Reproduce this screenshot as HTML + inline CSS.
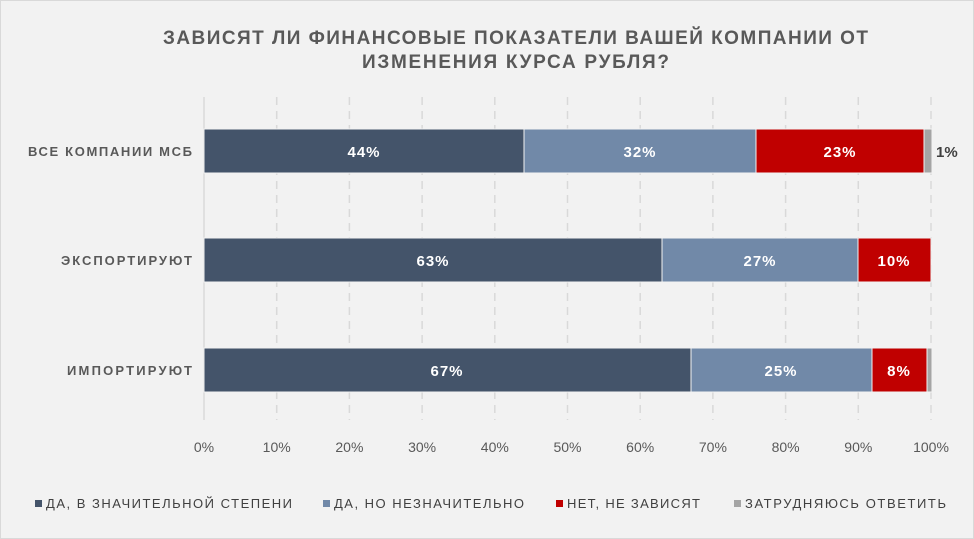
<!DOCTYPE html>
<html><head><meta charset="utf-8"><style>
html,body{margin:0;padding:0;background:#f2f2f2;}
svg{display:block;font-family:"Liberation Sans","DejaVu Sans",sans-serif;}
</style></head><body>
<svg width="974" height="539" viewBox="0 0 974 539" xmlns="http://www.w3.org/2000/svg">
<rect x="0.5" y="0.5" width="973" height="538" fill="#f2f2f2" stroke="#d9d9d9"/>
<text x="163" y="44" textLength="705" lengthAdjust="spacing" font-size="19" font-weight="bold" fill="#595959">ЗАВИСЯТ ЛИ ФИНАНСОВЫЕ ПОКАЗАТЕЛИ ВАШЕЙ КОМПАНИИ ОТ</text>
<text x="362" y="68" textLength="307" lengthAdjust="spacing" font-size="19" font-weight="bold" fill="#595959">ИЗМЕНЕНИЯ КУРСА РУБЛЯ?</text>
<g stroke="#d9d9d9" stroke-width="1.5" stroke-dasharray="8,6">
<line x1="276.7" y1="97" x2="276.7" y2="420"/><line x1="349.4" y1="97" x2="349.4" y2="420"/>
<line x1="422.1" y1="97" x2="422.1" y2="420"/><line x1="494.8" y1="97" x2="494.8" y2="420"/>
<line x1="567.5" y1="97" x2="567.5" y2="420"/><line x1="640.2" y1="97" x2="640.2" y2="420"/>
<line x1="712.9" y1="97" x2="712.9" y2="420"/><line x1="785.6" y1="97" x2="785.6" y2="420"/>
<line x1="858.3" y1="97" x2="858.3" y2="420"/><line x1="931" y1="97" x2="931" y2="420"/>
</g>
<line x1="204" y1="97" x2="204" y2="420" stroke="#d9d9d9" stroke-width="1.5"/>
<g stroke="#f2f2f2" stroke-width="1">
<rect x="204" y="129" width="320" height="44" fill="#44546a"/>
<rect x="524" y="129" width="232" height="44" fill="#7189a8"/>
<rect x="756" y="129" width="168" height="44" fill="#c00000"/>
<rect x="924" y="129" width="8" height="44" fill="#a5a5a5"/>
<rect x="204" y="238" width="458" height="44" fill="#44546a"/>
<rect x="662" y="238" width="196" height="44" fill="#7189a8"/>
<rect x="858" y="238" width="73" height="44" fill="#c00000"/>
<rect x="204" y="348" width="487" height="44" fill="#44546a"/>
<rect x="691" y="348" width="181" height="44" fill="#7189a8"/>
<rect x="872" y="348" width="55" height="44" fill="#c00000"/>
<rect x="927" y="348" width="5" height="44" fill="#a5a5a5"/>
</g>
<g font-size="15" font-weight="bold" fill="#fff" text-anchor="middle" letter-spacing="1">
<text x="364" y="157">44%</text><text x="640" y="157">32%</text><text x="840" y="157">23%</text>
<text x="433" y="266">63%</text><text x="760" y="266">27%</text><text x="894" y="266">10%</text>
<text x="447" y="376">67%</text><text x="781" y="376">25%</text><text x="899" y="376">8%</text>
</g>
<text x="936" y="157" font-size="15" font-weight="bold" fill="#404040">1%</text>
<g font-size="13" font-weight="bold" fill="#595959">
<text x="28" y="156" textLength="164" lengthAdjust="spacing">ВСЕ КОМПАНИИ МСБ</text>
<text x="61" y="265" textLength="131" lengthAdjust="spacing">ЭКСПОРТИРУЮТ</text>
<text x="67" y="375" textLength="125" lengthAdjust="spacing">ИМПОРТИРУЮТ</text>
</g>
<g font-size="14" fill="#595959" text-anchor="middle">
<text x="204" y="452">0%</text><text x="276.7" y="452">10%</text><text x="349.4" y="452">20%</text>
<text x="422.1" y="452">30%</text><text x="494.8" y="452">40%</text><text x="567.5" y="452">50%</text>
<text x="640.2" y="452">60%</text><text x="712.9" y="452">70%</text><text x="785.6" y="452">80%</text>
<text x="858.3" y="452">90%</text><text x="931" y="452">100%</text>
</g>
<g font-size="13" fill="#404040">
<rect x="35" y="500" width="7" height="7" fill="#44546a"/><text x="46" y="508" textLength="246" lengthAdjust="spacing">ДА, В ЗНАЧИТЕЛЬНОЙ СТЕПЕНИ</text>
<rect x="323" y="500" width="7" height="7" fill="#7189a8"/><text x="334" y="508" textLength="190" lengthAdjust="spacing">ДА, НО НЕЗНАЧИТЕЛЬНО</text>
<rect x="556" y="500" width="7" height="7" fill="#c00000"/><text x="567" y="508" textLength="133" lengthAdjust="spacing">НЕТ, НЕ ЗАВИСЯТ</text>
<rect x="734" y="500" width="7" height="7" fill="#a5a5a5"/><text x="745" y="508" textLength="201" lengthAdjust="spacing">ЗАТРУДНЯЮСЬ ОТВЕТИТЬ</text>
</g>
</svg>
</body></html>
